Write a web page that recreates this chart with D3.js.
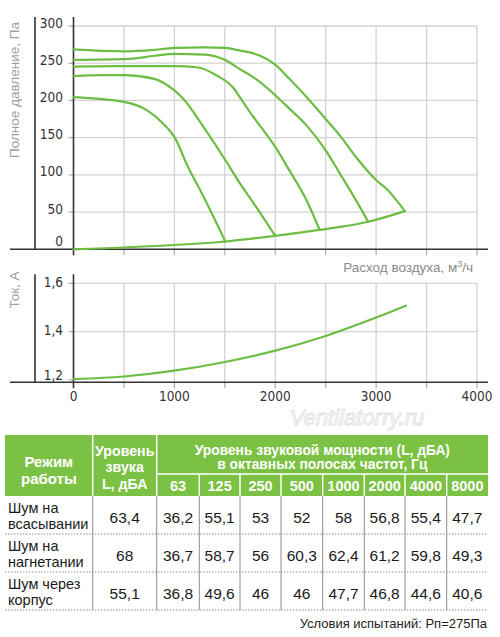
<!DOCTYPE html>
<html><head><meta charset="utf-8">
<script src="https://cdn.jsdelivr.net/npm/d3@7"></script>
<style>
html,body{margin:0;padding:0;background:#fff;}
svg{display:block;}
</style></head>
<body>
<svg id="c" width="500" height="637"></svg>
<script>
// ---------- data ----------
const flowTicks = [0, 1000, 2000, 3000, 4000];
const flowGrid = [500, 1000, 1500, 2000, 2500, 3000, 3500, 4000];
const pressureTicks = [0, 50, 100, 150, 200, 250, 300];
const currentTicks = [1.2, 1.4, 1.6];

const curve270 = [[0,268.5],[500,266],[800,268],[1000,270.5],[1300,271.4],[1500,270.5],[1650,267],[1750,264.5],[1850,260],[2000,248],[2140,229],[2310,204.5],[2500,175],[2640,153],[2800,124],[3000,93],[3120,79],[3200,66],[3285,51.3]];
const curve255 = [[0,254.5],[550,255.8],[800,260],[1000,262.5],[1300,261.6],[1500,254.5],[1650,242],[1750,234],[1810,228.5],[2000,207],[2140,189],[2310,166.5],[2500,133],[2640,102],[2800,66],[2921,37]];
const curve245 = [[0,245.5],[500,246],[1000,246],[1220,244.6],[1420,233.5],[1590,216],[1650,204],[1750,184],[1810,173],[2000,137.5],[2140,106],[2310,66],[2440,26]];
const curve233 = [[0,232.6],[300,234],[500,234],[800,229],[1000,213.4],[1090,202],[1290,164],[1500,121],[1650,88.5],[1810,57],[2000,18]];
const curve205 = [[0,204.5],[500,198],[730,186.6],[890,168.8],[1010,148.7],[1120,115],[1290,70.5],[1505,10.5]];
const systemCurve = [[0,0],[1000,5.8],[1505,10.5],[1750,14],[2000,18],[2440,26],[2921,37],[3285,51.3]];
const fanCurves = [curve270, curve255, curve245, curve233, curve205];

const currentCurve = [[0,1.203],[500,1.214],[1000,1.238],[1500,1.274],[2000,1.321],[2500,1.382],[3000,1.458],[3295,1.507]];

const rowLabels = [["Шум на","всасывании"],["Шум на","нагнетании"],["Шум через","корпус"]];
const totalLevel = ["63,4","68","55,1"];
const freqBands = ["63","125","250","500","1000","2000","4000","8000"];
const bandLevels = [
  ["36,2","55,1","53","52","58","56,8","55,4","47,7"],
  ["36,7","58,7","56","60,3","62,4","61,2","59,8","49,3"],
  ["36,8","49,6","46","46","47,7","46,8","44,6","40,6"]
];
const headerMode = ["Режим","работы"];
const headerLevel = ["Уровень","звука","L, дБА"];
const headerPower = ["Уровень звуковой мощности (L, дБА)","в октавных полосах частот, Гц"];
const footerText = "Условия испытаний: Рп=275Па";

// ---------- drawing ----------
const svg = d3.select("#c");
const GREEN = "#6dbd45";
const GRID = "#d2d2d2";
const AXIS = "#333";
const narrow = "'Liberation Sans Narrow','DejaVu Sans Condensed','Roboto Condensed',sans-serif";
const sans = "'Liberation Sans',Arial,sans-serif";
const tfont = "'Liberation Sans',Arial,sans-serif";

const x = d3.scaleLinear().domain([0,4000]).range([73.5,477]);
const yP = d3.scaleLinear().domain([0,300]).range([249.3,26]);
const yI = d3.scaleLinear().domain([1.19,1.6]).range([382.3,283.3]);

function panel(g, y, ticks, top, bottom, fmt, labelDy, firstDy){
  g.selectAll(".gv").data(flowGrid).join("line")
    .attr("x1",d=>x(d)).attr("x2",d=>x(d)).attr("y1",top).attr("y2",bottom)
    .attr("stroke",GRID).attr("stroke-width",1.3);
  g.selectAll(".gh").data(ticks.filter(t=>y(t)<bottom-3)).join("line")
    .attr("x1",x(0)).attr("x2",x(4000)).attr("y1",d=>y(d)).attr("y2",d=>y(d))
    .attr("stroke",GRID).attr("stroke-width",1.3);
  g.selectAll(".tb").data(flowGrid).join("line")
    .attr("x1",d=>x(d)).attr("x2",d=>x(d)).attr("y1",bottom).attr("y2",bottom+6)
    .attr("stroke","#aaa").attr("stroke-width",1.2);
  g.selectAll(".ty").data(ticks).join("line")
    .attr("x1",x(0)-5).attr("x2",x(0)).attr("y1",d=>y(d)).attr("y2",d=>y(d))
    .attr("stroke","#aaa").attr("stroke-width",1.2);
  g.selectAll(".ly").data(ticks).join("text")
    .attr("x",63).attr("y",(d,i)=>y(d)+(i===0?firstDy:labelDy))
    .attr("text-anchor","end").attr("font-family",narrow).attr("font-size",13.5)
    .attr("fill","#333").text(fmt);
  g.append("line").attr("x1",10).attr("x2",488).attr("y1",bottom).attr("y2",bottom)
    .attr("stroke",AXIS).attr("stroke-width",1.6);
  g.append("line").attr("x1",35).attr("x2",35).attr("y1",top-9).attr("y2",bottom)
    .attr("stroke",AXIS).attr("stroke-width",1.6);
  g.append("line").attr("x1",x(0)).attr("x2",x(0)).attr("y1",top-9).attr("y2",bottom+6)
    .attr("stroke",AXIS).attr("stroke-width",1.6);
}

const gTop = svg.append("g");
panel(gTop, yP, pressureTicks, 26, 249.3, d=>d, 1.5, -3);
const gBot = svg.append("g");
panel(gBot, yI, currentTicks, 283.3, 382.3, d=>d3.format(".1f")(d).replace(".",","), 3.5, 0);

const lineP = d3.line().x(d=>x(d[0])).y(d=>yP(d[1])).curve(d3.curveMonotoneX);
gTop.selectAll(".fan").data(fanCurves.concat([systemCurve])).join("path")
  .attr("d",lineP).attr("fill","none").attr("stroke",GREEN).attr("stroke-width",2.2)
  .attr("stroke-linejoin","round").attr("stroke-linecap","round");
const lineI = d3.line().x(d=>x(d[0])).y(d=>yI(d[1])).curve(d3.curveMonotoneX);
gBot.append("path").datum(currentCurve).attr("d",lineI).attr("fill","none")
  .attr("stroke",GREEN).attr("stroke-width",2.2).attr("stroke-linecap","round");

gBot.selectAll(".lx").data(flowTicks).join("text")
  .attr("x",d=>x(d)).attr("y",401).attr("text-anchor","middle")
  .attr("font-family",narrow).attr("font-size",13.5).attr("fill","#333").text(d=>d);

svg.append("text").attr("transform","translate(19,90) rotate(-90)")
  .attr("text-anchor","middle").attr("font-family",sans).attr("font-size",13.5)
  .attr("fill","#a0a0a0").text("Полное давление, Па");
svg.append("text").attr("transform","translate(19,290) rotate(-90)")
  .attr("text-anchor","middle").attr("font-family",sans).attr("font-size",13.5)
  .attr("fill","#a0a0a0").text("Ток, А");
const xt = svg.append("text").attr("x",473).attr("y",271.5).attr("text-anchor","end")
  .attr("font-family",sans).attr("font-size",13.5).attr("fill","#8a8a8a");
xt.append("tspan").text("Расход воздуха, м");
xt.append("tspan").attr("font-size",9).attr("dy",-5).text("3");
xt.append("tspan").attr("dy",5).text("/ч");

svg.append("text").attr("x",357).attr("y",425).attr("text-anchor","middle")
  .attr("font-family",sans).attr("font-style","italic").attr("font-size",22)
  .attr("fill","#fff").attr("stroke","#e2e2e2").attr("stroke-width",1)
  .text("Ventilatorry.ru");

// ---------- table ----------
const HG = "#7bc143";
const colX = [5, 92.7, 156.7, 199.3, 240, 281, 322.7, 364.3, 405, 446.7, 488];
const hTop = 435, hMid = 474, hBot = 496, rowH = 38;
const tg = svg.append("g");
tg.append("rect").attr("x",colX[0]).attr("y",hTop).attr("width",colX[10]-colX[0])
  .attr("height",hBot-hTop).attr("fill",HG);
[colX[1],colX[2]].forEach(cx=>tg.append("line").attr("x1",cx).attr("x2",cx)
  .attr("y1",hTop).attr("y2",hBot).attr("stroke","#fff").attr("stroke-width",1.5));
colX.slice(3,10).forEach(cx=>tg.append("line").attr("x1",cx).attr("x2",cx)
  .attr("y1",hMid).attr("y2",hBot).attr("stroke","#fff").attr("stroke-width",1.5));
tg.append("line").attr("x1",colX[2]).attr("x2",colX[10]).attr("y1",hMid).attr("y2",hMid)
  .attr("stroke","#fff").attr("stroke-width",1.5);

function htext(xc, y, t, size){
  tg.append("text").attr("x",xc).attr("y",y).attr("text-anchor","middle")
    .attr("font-family",tfont).attr("font-weight","bold").attr("font-size",size||13)
    .attr("fill","#fff").text(t);
}
headerMode.forEach((t,i)=>htext((colX[0]+colX[1])/2, 466.5+i*17, t, 15));
headerLevel.forEach((t,i)=>htext((colX[1]+colX[2])/2, 455.5+i*16.5, t, 14.2));
headerPower.forEach((t,i)=>htext((colX[2]+colX[10])/2, 454.5+i*14.5, t, 13.8));
freqBands.forEach((t,i)=>htext((colX[2+i]+colX[3+i])/2, 491, t, 14.5));

const bodyBottom = hBot + rowH*rowLabels.length;
colX.slice(1,10).forEach(cx=>tg.append("line").attr("x1",cx).attr("x2",cx)
  .attr("y1",hBot).attr("y2",bodyBottom).attr("stroke","#8c8c8c").attr("stroke-width",1));
rowLabels.forEach((lab,r)=>{
  const y0 = hBot + r*rowH;
  tg.append("line").attr("x1",colX[0]).attr("x2",colX[10]).attr("y1",y0+rowH).attr("y2",y0+rowH)
    .attr("stroke","#8c8c8c").attr("stroke-width",1).attr("stroke-dasharray","1.5,1.5");
  lab.forEach((t,i)=>tg.append("text").attr("x",8).attr("y",y0+16.5+i*16.5)
    .attr("font-family",tfont).attr("font-size",14.5).attr("fill","#1a1a1a").text(t));
  tg.append("text").attr("x",(colX[1]+colX[2])/2).attr("y",y0+26.5).attr("text-anchor","middle")
    .attr("font-family",tfont).attr("font-size",15.5).attr("fill","#1a1a1a").text(totalLevel[r]);
  bandLevels[r].forEach((v,i)=>tg.append("text").attr("x",(colX[2+i]+colX[3+i])/2)
    .attr("y",y0+26.5).attr("text-anchor","middle").attr("font-family",tfont)
    .attr("font-size",15.5).attr("fill","#1a1a1a").text(v));
});
svg.append("text").attr("x",487).attr("y",628).attr("text-anchor","end")
  .attr("font-family",tfont).attr("font-size",13).attr("fill","#222").text(footerText);
</script>
</body></html>
